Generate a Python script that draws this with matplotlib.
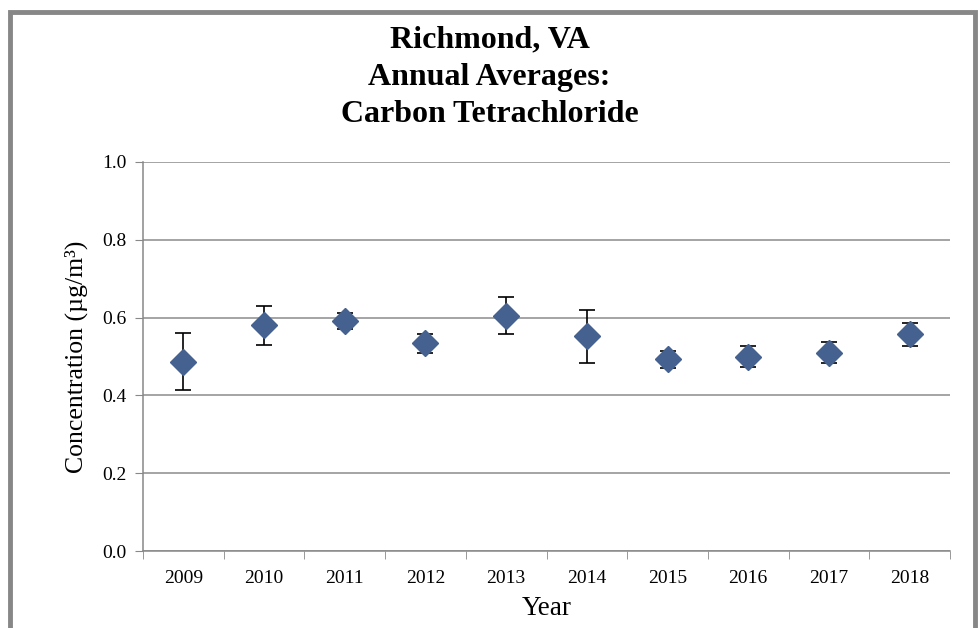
import matplotlib
matplotlib.use("Agg")
import matplotlib.pyplot as plt
from matplotlib.patches import Rectangle
import numpy as np

years = ["2009", "2010", "2011", "2012", "2013", "2014", "2015", "2016", "2017", "2018"]
means = [0.487, 0.581, 0.592, 0.534, 0.604, 0.553, 0.493, 0.499, 0.509, 0.558]
upper = [0.560, 0.630, 0.612, 0.558, 0.653, 0.620, 0.514, 0.527, 0.537, 0.586]
lower = [0.414, 0.530, 0.571, 0.509, 0.558, 0.484, 0.470, 0.473, 0.484, 0.527]
yticks = [0.0, 0.2, 0.4, 0.6, 0.8, 1.0]

plt.rcParams['font.family'] = ['Liberation Serif', 'DejaVu Serif']

fig = plt.figure(figsize=(9.79, 6.28), dpi=100)
fig.patches.append(Rectangle((10/979, -0.05), 965/979, 1.05 - 12/628, transform=fig.transFigure,
                             fill=False, edgecolor='#878787', linewidth=3.5, zorder=0))

ax = fig.add_axes([143/979, 1 - 551/628, (950 - 143)/979, (551 - 162)/628])
x = np.arange(len(years))
m = np.array(means)
yerr = np.vstack([m - np.array(lower), np.array(upper) - m])
ax.errorbar(x, m, yerr=yerr, fmt='D', color='#44618F', markersize=13, ecolor='black',
            elinewidth=1.2, capsize=6, capthick=1.2, zorder=3)

ax.set_xlim(-0.5, len(years) - 0.5)
ax.set_ylim(0, 1.0)
ax.set_yticks(yticks)
ax.set_yticklabels([f"{v:.1f}" for v in yticks], fontsize=14)
ax.set_xticks(x)
ax.set_xticklabels(years, fontsize=14)
ax.set_xticks(np.arange(-0.5, len(years)), minor=True)
ax.tick_params(axis='x', which='major', length=0, pad=14)
ax.tick_params(axis='x', which='minor', length=6, color='#888888', direction='out')
ax.tick_params(axis='y', length=6, color='#888888', direction='out', pad=6)
ax.grid(axis='y', color='#8c8c8c', linewidth=1.1)
ax.set_axisbelow(True)
for s in ['top', 'right']:
    ax.spines[s].set_visible(False)
for s in ['left', 'bottom']:
    ax.spines[s].set_color('#888888')
    ax.spines[s].set_linewidth(1.1)

ax.set_ylabel("Concentration (µg/m³)", fontsize=18.5, labelpad=10)
ax.set_xlabel("Year", fontsize=19.5, labelpad=6)

fig.text(0.5, 1 - 40/628, "Richmond, VA", ha='center', va='center', fontsize=23, fontweight='bold')
fig.text(0.5, 1 - 77/628, "Annual Averages:", ha='center', va='center', fontsize=23, fontweight='bold')
fig.text(0.5, 1 - 114/628, "Carbon Tetrachloride", ha='center', va='center', fontsize=23, fontweight='bold')

fig.savefig("out.png", dpi=100, facecolor='white')
